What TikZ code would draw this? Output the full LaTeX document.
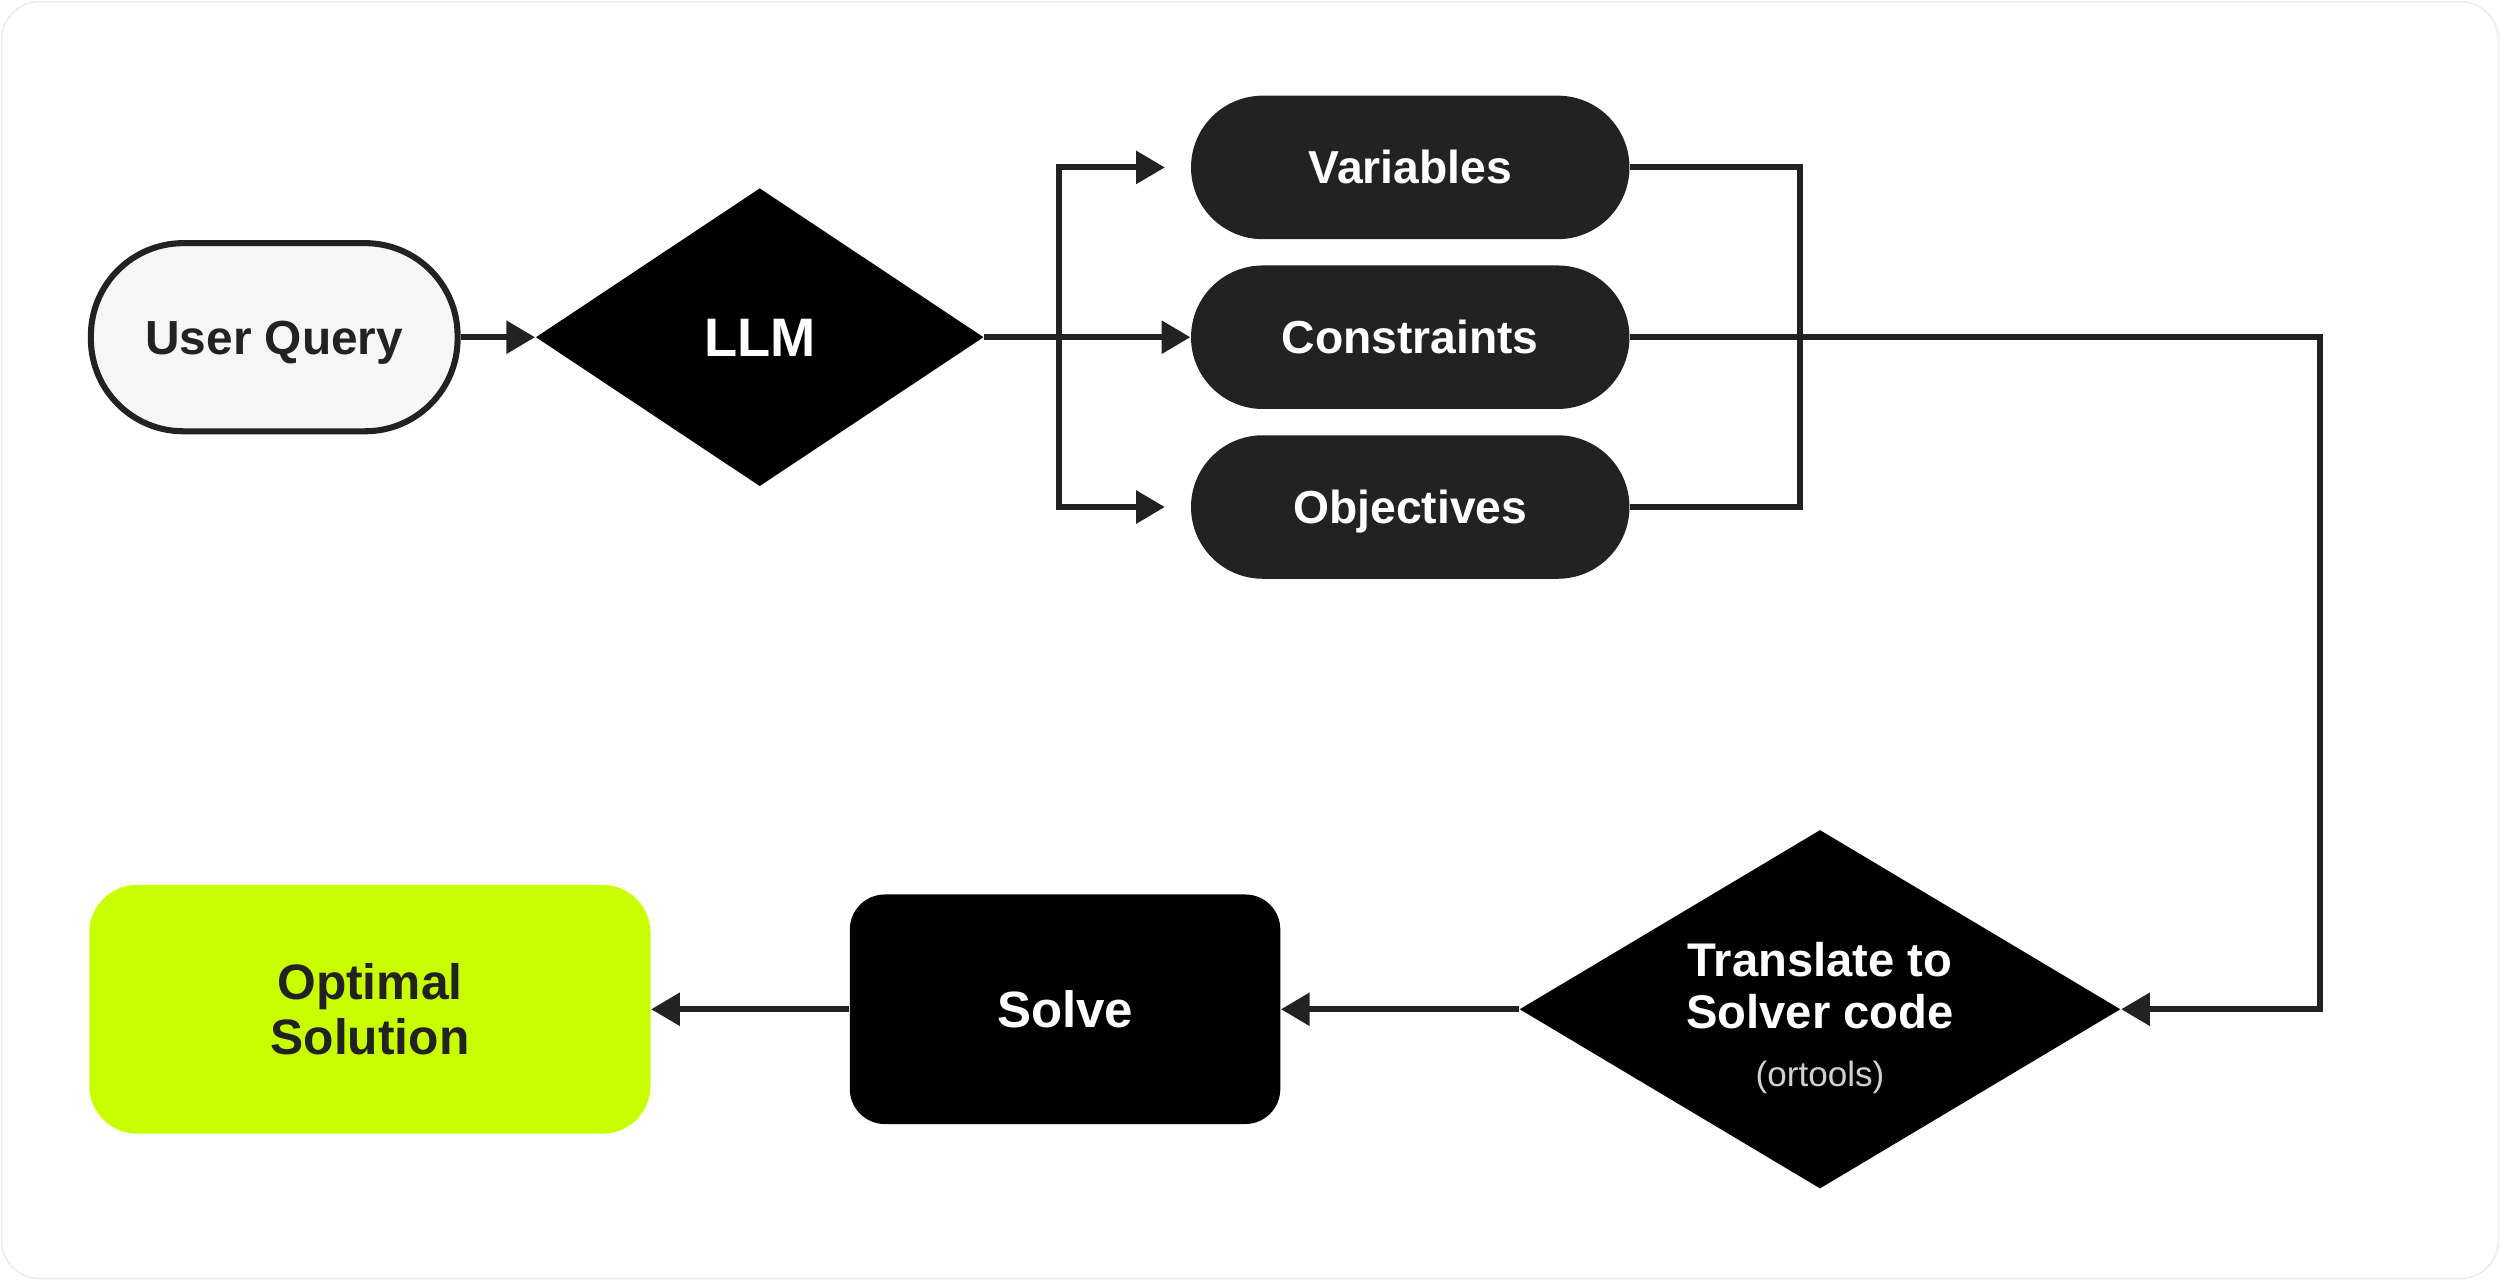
\documentclass[tikz,border=0pt]{standalone}
\usepackage{fontspec}
\setmainfont{Liberation Sans}
\usetikzlibrary{shapes.geometric,arrows.meta}
\definecolor{ink}{HTML}{222222}
\definecolor{paper}{HTML}{F6F6F6}
\definecolor{lime}{HTML}{C8FF00}
\definecolor{dimtext}{HTML}{D0D0D0}
\tikzset{
  conn/.style={draw=ink, line width=1.9pt},
  arr/.style={conn, -{Triangle[length=9pt,width=10pt]}},
  capsmid/.style={text height=#1, text depth=0pt},
  pill/.style={rectangle, rounded corners=22.5pt, fill=ink, text=white,
    minimum width=137.5pt, minimum height=45pt, inner sep=0pt, capsmid=10.38pt,
    font=\bfseries\fontsize{14.5}{17}\selectfont},
  gem/.style={diamond, fill=black, text=white, inner sep=0pt, align=center}
}
\begin{document}
\begin{tikzpicture}[x=0.5pt,y=-0.5pt]
\useasboundingbox (0,0) rectangle (1568,803);
\draw[draw=black!7, fill=white, rounded corners=12pt, line width=0.5pt] (1,1) rectangle (1567,802);

\node[rectangle, rounded corners=29pt, fill=paper, draw=ink, line width=1.9pt,
  minimum width=115pt, minimum height=59pt, inner sep=0pt, text=ink, capsmid=10.74pt,
  font=\bfseries\fontsize{15}{17}\selectfont] (uq) at (172,211.5) {User Query};
\node[gem, minimum width=140.5pt, minimum height=93.5pt, aspect=1.5, capsmid=12.17pt,
  font=\bfseries\fontsize{17}{20}\selectfont] (llm) at (476.5,211.5) {LLM};

\node[pill] (var) at (884.5,105) {Variables};
\node[pill] (con) at (884.5,211.5) {Constraints};
\node[pill] (obj) at (884.5,318) {Objectives};

\node[gem, minimum width=188.5pt, minimum height=112.5pt, aspect=1.67,
  font=\bfseries\fontsize{14.8}{16.5}\selectfont] (tr) at (1141.5,633)
  {\\[-0.5pt]Translate to\\Solver code\\[1.5pt]{\color{dimtext}\mdseries\fontsize{11}{13}\selectfont(ortools)}};

\node[rectangle, rounded corners=11pt, fill=black, text=white, capsmid=11.46pt,
  font=\bfseries\fontsize{16}{18}\selectfont,
  minimum width=135pt, minimum height=72pt] (sol) at (668,633) {Solve};
\node[rectangle, rounded corners=15pt, fill=lime, text=ink, align=center,
  font=\bfseries\fontsize{15.6}{17.5}\selectfont,
  minimum width=176pt, minimum height=78pt] (opt) at (232,633) {Optimal\\Solution};

% connectors
\draw[arr] (uq.east) -- (llm.west);
\draw[arr] (llm.east) -- (con.west);
\coordinate (br) at (664,211.5);
\draw[arr, shorten >=8pt] (br) |- (var.west);
\draw[arr, shorten >=8pt] (br) |- (obj.west);

\coordinate (jn) at (1129,211.5);
\draw[conn] (var.east) -| (jn) |- (obj.east);
\coordinate (rt) at (1455,211.5);
\draw[arr] (con.east) -- (rt) |- (tr.east);
\draw[arr] (tr.west) -- (sol.east);
\draw[arr] (sol.west) -- (opt.east);
\end{tikzpicture}
\end{document}
